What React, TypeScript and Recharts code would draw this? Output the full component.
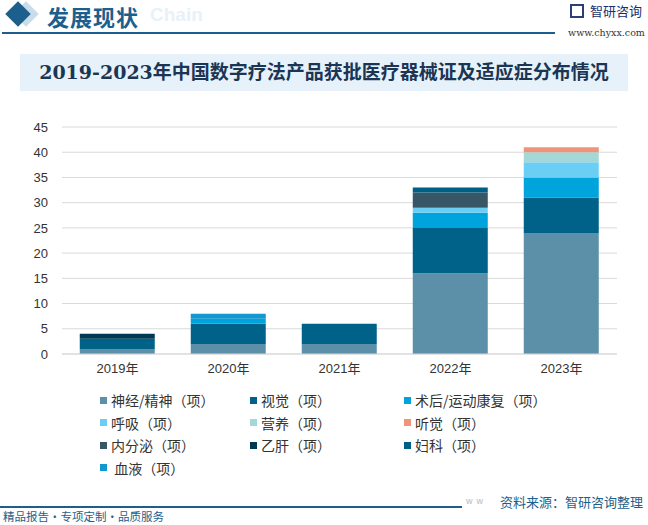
import React from "react";
import { BarChart, Bar, XAxis, YAxis, CartesianGrid } from "recharts";

const years = ["2019年", "2020年", "2021年", "2022年", "2023年"];
const shenjing = [1, 2, 2, 16, 24];
const shijue = [2, 4, 4, 9, 7];
const shuhou = [0, 1, 0, 3, 4];
const huxi = [0, 0, 0, 1, 3];
const yingyang = [0, 0, 0, 0, 2];
const tingjue = [0, 0, 0, 0, 1];
const neifenmi = [0, 0, 0, 3, 0];
const yigan = [1, 0, 0, 0, 0];
const fuke = [0, 0, 0, 1, 0];
const xueye = [0, 1, 0, 0, 0];
const yTicks = [0, 5, 10, 15, 20, 25, 30, 35, 40, 45];

const series = [
  { key: "shenjing", name: "神经/精神（项）", values: shenjing, color: "#5b90a8" },
  { key: "shijue", name: "视觉（项）", values: shijue, color: "#006288" },
  { key: "shuhou", name: "术后/运动康复（项）", values: shuhou, color: "#00a4dc" },
  { key: "huxi", name: "呼吸（项）", values: huxi, color: "#6bcff5" },
  { key: "yingyang", name: "营养（项）", values: yingyang, color: "#a3d8d6" },
  { key: "tingjue", name: "听觉（项）", values: tingjue, color: "#ef9478" },
  { key: "neifenmi", name: "内分泌（项）", values: neifenmi, color: "#385766" },
  { key: "yigan", name: "乙肝（项）", values: yigan, color: "#003a52" },
  { key: "fuke", name: "妇科（项）", values: fuke, color: "#005f86" },
  { key: "xueye", name: " 血液（项）", values: xueye, color: "#1298d0" },
];

const data = years.map((year, i) => {
  const row: Record<string, string | number> = { year };
  series.forEach((s) => {
    row[s.key] = s.values[i];
  });
  return row;
});

const sans = '"Liberation Sans", "Noto Sans CJK SC", sans-serif';
const cjk = '"Noto Sans CJK SC", sans-serif';
const navy = "#1d5f8c";

export default function App() {
  const legendCols = [100, 250, 404];
  return (
    <div
      style={{
        position: "absolute",
        left: 0,
        top: 0,
        width: 648,
        height: 525,
        background: "#fff",
        overflow: "hidden",
        fontFamily: cjk,
      }}
    >
      {/* header */}
      <div style={{ position: "absolute", left: 17, top: 5, width: 18, height: 18, background: "#c9dcea", transform: "rotate(45deg)" }} />
      <div style={{ position: "absolute", left: 9, top: 5, width: 18, height: 18, background: navy, transform: "rotate(45deg)" }} />
      <div style={{ position: "absolute", left: 150, top: 4, fontSize: 19, fontWeight: 700, color: "#e8f1f8", fontFamily: sans }}>Chain</div>
      <div style={{ position: "absolute", left: 47, top: 0, fontSize: 22, fontWeight: 700, color: navy, letterSpacing: 1 }}>发展现状</div>
      <div style={{ position: "absolute", left: 2, top: 32, width: 553, height: 1.5, background: navy }} />
      <div style={{ position: "absolute", left: 570, top: 4, width: 14, height: 14, border: "2px solid #2a3f7a", boxSizing: "border-box" }} />
      <div style={{ position: "absolute", left: 590, top: 1, fontSize: 13, color: "#1a2f6c" }}>智研咨询</div>
      <div style={{ position: "absolute", left: 568, top: 27, fontSize: 9.5, color: "#333", fontFamily: '"DejaVu Serif", serif' }}>www.chyxx.com</div>

      {/* title */}
      <div
        style={{
          position: "absolute",
          left: 20,
          top: 54,
          width: 608,
          height: 37,
          background: "#e6f1f9",
          color: "#1b3554",
          fontSize: 19,
          fontWeight: 700,
          lineHeight: "37px",
          textAlign: "center",
          fontFamily: '"DejaVu Serif", "Noto Sans CJK SC", serif',
        }}
      >
        2019-2023年中国数字疗法产品获批医疗器械证及适应症分布情况
      </div>

      <div style={{ position: "absolute", left: 0, top: 0 }}>
        <BarChart
          width={648}
          height={385}
          data={data}
          margin={{ top: 127, right: 31, bottom: 0, left: 20 }}
          barCategoryGap="16%"
        >
          <CartesianGrid vertical={false} stroke="#d9d9d9" strokeWidth={1} />
          <XAxis
            dataKey="year"
            axisLine={{ stroke: "#d9d9d9" }}
            tickLine={false}
            tickSize={0}
            tickMargin={10}
            height={31}
            tick={{ fill: "#333", fontSize: 13, fontFamily: sans }}
          />
          <YAxis
            domain={[0, 45]}
            ticks={yTicks}
            interval={0}
            axisLine={false}
            tickLine={false}
            tickSize={0}
            tickMargin={14}
            width={42}
            tick={{ fill: "#333", fontSize: 13, fontFamily: sans }}
          />
          {series.map((s) => (
            <Bar key={s.key} dataKey={s.key} name={s.name} stackId="a" fill={s.color} isAnimationActive={false} />
          ))}
        </BarChart>
      </div>

      {/* legend */}
      {series.map((s, i) => (
        <div
          key={s.key}
          style={{
            position: "absolute",
            left: legendCols[i % 3],
            top: 390 + Math.floor(i / 3) * 22.5,
            display: "flex",
            alignItems: "center",
            fontSize: 14,
            color: "#333",
            whiteSpace: "pre",
            height: 20,
          }}
        >
          <span style={{ display: "inline-block", width: 7, height: 7, background: s.color, marginRight: 4 }} />
          {s.name}
        </div>
      ))}

      {/* footer */}
      <div style={{ position: "absolute", left: 0, top: 506, width: 462, height: 1.5, background: navy }} />
      <div style={{ position: "absolute", left: 466, top: 496, fontSize: 9, color: "#b0bac6", letterSpacing: 4, fontFamily: sans }}>ww</div>
      <div style={{ position: "absolute", left: 500, top: 492, fontSize: 13, color: navy }}>资料来源：智研咨询整理</div>
      <div style={{ position: "absolute", left: 3, top: 509, fontSize: 11.5, lineHeight: "15px", color: navy }}>精品报告·专项定制·品质服务</div>
    </div>
  );
}
